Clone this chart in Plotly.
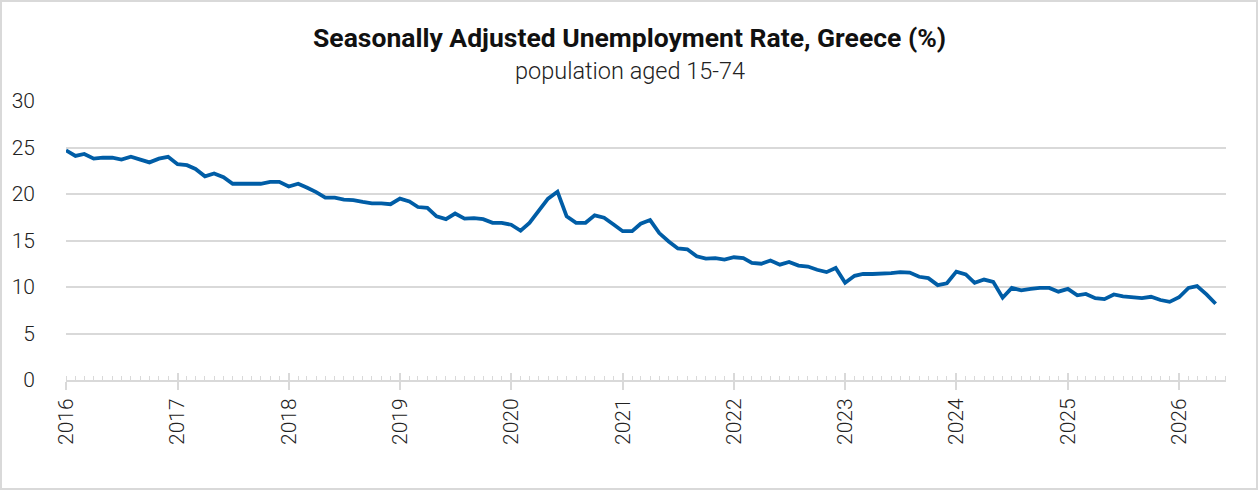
import plotly.graph_objects as go
import pandas as pd

# Monthly seasonally adjusted unemployment rate, Greece (%), Jan 2016 - May 2026
start_month = "2016-01-01"
rates = [
    24.7, 24.1, 24.3, 23.8, 23.9, 23.9, 23.7, 24.0, 23.7, 23.4, 23.8, 24.0,
    23.2, 23.1, 22.7, 21.9, 22.2, 21.8, 21.1, 21.1, 21.1, 21.1, 21.3, 21.3,
    20.8, 21.1, 20.7, 20.2, 19.6, 19.6, 19.4, 19.35, 19.15, 19.0, 19.0, 18.9,
    19.5, 19.2, 18.6, 18.5, 17.6, 17.3, 17.9, 17.35, 17.4, 17.3, 16.9, 16.9,
    16.7, 16.05, 16.9, 18.3, 19.5, 20.25, 17.6, 16.9, 16.9, 17.7, 17.45, 16.75,
    16.0, 16.0, 16.8, 17.2, 15.8, 14.9, 14.15, 14.05, 13.3, 13.05, 13.1, 12.95,
    13.2, 13.1, 12.6, 12.5, 12.85, 12.4, 12.7, 12.3, 12.2, 11.85, 11.6, 12.05,
    10.45, 11.2, 11.4, 11.4, 11.4, 11.5, 11.6, 11.55, 11.1, 10.95, 10.2, 10.4,
    11.65, 11.35, 10.45, 10.8, 10.55, 8.85, 9.9, 9.65, 9.8, 9.9, 9.9, 9.5,
    9.8, 9.1, 9.25, 8.8, 8.7, 9.2, 9.0, 8.9, 8.8, 8.95, 8.6, 8.4,
    8.9, 9.9, 10.1, 9.2, 8.2,
]
dates = pd.date_range(start_month, periods=len(rates), freq="MS")

title_text = "Seasonally Adjusted Unemployment Rate, Greece (%)"
subtitle_text = "population aged 15-74"
x_range = ["2016-01-01", "2026-06-04"]
y_ticks = [0, 5, 10, 15, 20, 25, 30]

GRID = "#d9d9d9"
LINE = "#005DA6"
TEXT = "#222222"
FONT = "Roboto"

fig = go.Figure()
fig.add_trace(go.Scatter(
    x=dates, y=rates, mode="lines",
    line=dict(color=LINE, width=3.8),
    hoverinfo="skip", showlegend=False,
))
# invisible trace to carry the overlay axis (inner part of year ticks)
fig.add_trace(go.Scatter(
    x=[dates[0]], y=[rates[0]], xaxis="x2", mode="markers",
    marker=dict(opacity=0), hoverinfo="skip", showlegend=False,
))

W, H = 1259, 491
L, R, T, B = 66, 33, 101, 111
pw, ph = W - L - R, H - T - B

fig.update_layout(
    width=W, height=H,
    margin=dict(l=L, r=R, t=T, b=B),
    paper_bgcolor="white", plot_bgcolor="white",
    font=dict(family=FONT, color=TEXT),
    xaxis=dict(
        type="date", range=x_range,
        dtick="M12", tick0="2016-01-01", tickformat="%Y",
        tickangle=-90,
        tickfont=dict(size=21, family=FONT, weight=300, color=TEXT),
        ticks="outside", ticklen=8, tickwidth=2, tickcolor=GRID,
        showline=True, linecolor=GRID, linewidth=2,
        showgrid=False, zeroline=False,
        minor=dict(dtick="M1", tick0="2016-01-01", ticks="inside",
                   ticklen=4, tickwidth=1, tickcolor=GRID, showgrid=False),
        fixedrange=True,
    ),
    xaxis2=dict(
        type="date", range=x_range, overlaying="x", anchor="y",
        dtick="M12", tick0="2016-01-01",
        ticks="inside", ticklen=7, tickwidth=2, tickcolor=GRID,
        showticklabels=False, showgrid=False, showline=False, zeroline=False,
        side="bottom",
    ),
    yaxis=dict(
        range=[0, 30], tickvals=y_ticks,
        tickfont=dict(size=21, family=FONT, weight=300, color=TEXT),
        showgrid=True, gridcolor=GRID, gridwidth=1.5,
        zeroline=False, showline=False, ticks="",
        ticklabelstandoff=30,
        fixedrange=True,
    ),
    annotations=[
        dict(text=f"<b>{title_text}</b>", xref="paper", yref="paper",
             x=(W / 2 - L) / pw, y=(H - B - 38) / ph + 0.0,
             xanchor="center", yanchor="middle", showarrow=False,
             font=dict(size=26.5, family=FONT, color="#111111")),
        dict(text=subtitle_text, xref="paper", yref="paper",
             x=(W / 2 - L) / pw, y=(H - B - 71) / ph,
             xanchor="center", yanchor="middle", showarrow=False,
             font=dict(size=23.5, family=FONT, weight=300, color=TEXT)),
    ],
    shapes=[
        dict(type="rect", xref="paper", yref="paper",
             x0=(1 - L) / pw, x1=(W - 2 - L) / pw,
             y0=(H - B - (H - 2)) / ph, y1=(H - B - 1) / ph,
             line=dict(color=GRID, width=2), fillcolor="rgba(0,0,0,0)",
             layer="below"),
    ],
)

fig.write_html("out.html")
